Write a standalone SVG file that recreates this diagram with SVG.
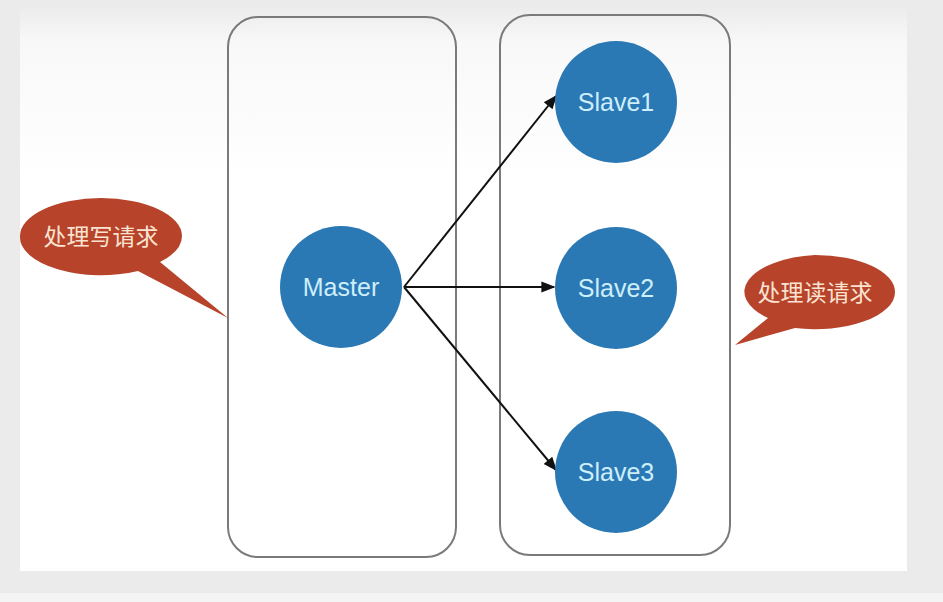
<svg xmlns="http://www.w3.org/2000/svg" width="943" height="602" viewBox="0 0 943 602">
<defs>
<linearGradient id="bg" x1="0" y1="0" x2="0" y2="1">
<stop offset="0" stop-color="#ececec"/>
<stop offset="0.06" stop-color="#f8f8f8"/>
<stop offset="0.3" stop-color="#ffffff"/>
<stop offset="1" stop-color="#ffffff"/>
</linearGradient>
<marker id="arr" viewBox="0 0 10 10" refX="9" refY="5" markerWidth="7" markerHeight="7" orient="auto" markerUnits="strokeWidth">
<path d="M0,1 L10,5 L0,9 z" fill="#111"/>
</marker>
<style>
.box{fill:none;stroke:#7a7a7a;stroke-width:2}
.node{fill:#2b79b4}
.ntext{font-family:"Liberation Sans",Arial,sans-serif;font-size:25px;fill:#cdeefb;text-anchor:middle;dominant-baseline:central}
.bubble{fill:#b6432a}
.btext{font-family:"Noto Sans CJK SC","Noto Sans",sans-serif;font-size:23px;fill:#fbe3d2;text-anchor:middle;dominant-baseline:central}
.conn{stroke:#111;stroke-width:2;fill:none}
</style>
</defs>
<rect x="0" y="0" width="943" height="602" fill="#ebebeb"/>
<rect x="20" y="8" width="887" height="563" fill="url(#bg)"/>
<rect x="0" y="593" width="943" height="9" fill="#f4f4f4"/>
<g id="master-group"><rect class="box" x="228" y="17" width="228" height="540" rx="30"/></g>
<g id="slave-group"><rect class="box" x="500" y="15" width="230" height="540" rx="30"/></g>
<g id="connectors">
<line class="conn" x1="404" y1="287" x2="556" y2="96" marker-end="url(#arr)"/>
<line class="conn" x1="404" y1="287" x2="554" y2="287" marker-end="url(#arr)"/>
<line class="conn" x1="404" y1="287" x2="556" y2="470" marker-end="url(#arr)"/>
</g>
<g id="master"><circle class="node" cx="341" cy="287" r="61"/><text class="ntext" x="341" y="287">Master</text></g>
<g id="slave1"><circle class="node" cx="616" cy="102" r="61"/><text class="ntext" x="616" y="102">Slave1</text></g>
<g id="slave2"><circle class="node" cx="616" cy="288" r="61"/><text class="ntext" x="616" y="288">Slave2</text></g>
<g id="slave3"><circle class="node" cx="616" cy="472" r="61"/><text class="ntext" x="616" y="472">Slave3</text></g>
<g id="write-callout">
<path class="bubble" d="M20,236 A81,38 0 0 1 182,236 A81,38 0 0 1 160,262 L228,318 L138,271 A81,38 0 0 1 20,236 z"/>
<text class="btext" x="101" y="235">处理写请求</text>
</g>
<g id="read-callout">
<path class="bubble" d="M735,345 L768,318 A80,37 0 0 1 815,255 A80,37 0 0 1 895,292 A80,37 0 0 1 795,328 z"/>
<text class="btext" x="815" y="291">处理读请求</text>
</g>
</svg>
